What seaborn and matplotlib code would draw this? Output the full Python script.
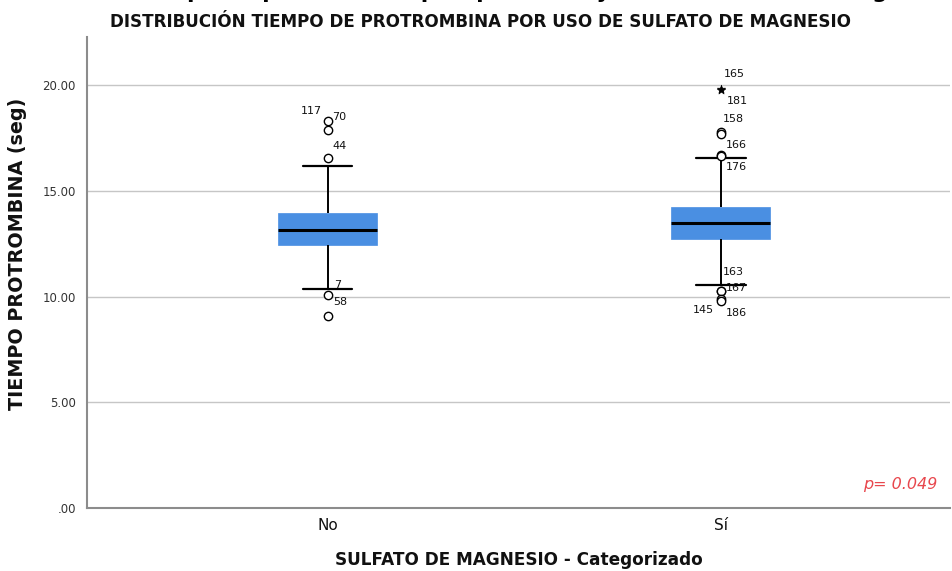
import numpy as np
import pandas as pd
import matplotlib
matplotlib.use("Agg")
import matplotlib.pyplot as plt
import seaborn as sns

# ---- data -------------------------------------------------------------
categorias = ["No", "Sí"]

# prothrombin time values inside the whiskers (seconds), per group
tp_no = [10.36, 11.60, 12.43, 12.65, 12.85, 13.02, 13.16, 13.40, 13.60, 13.80, 13.95, 16.18]
tp_si = [10.54, 11.40, 12.30, 12.70, 12.85, 12.98, 13.08, 13.18, 13.28, 13.38, 13.46,
         13.55, 13.65, 13.78, 13.92, 14.05, 14.15, 14.25, 16.57]

# atypical cases (value and case number)
atip_no_val = [18.28, 17.88, 16.57, 10.09, 9.10]
atip_no_id = ["117", "70", "44", "7", "58"]
atip_si_val = [19.81, 19.78, 17.76, 17.66, 16.68, 16.64, 10.28, 10.25, 9.88, 9.80]
atip_si_id = ["165", "181", "158", "", "166", "176", "163", "167", "145", "186"]

yticks = [0, 5, 10, 15, 20]
ytick_labels = [".00", "5.00", "10.00", "15.00", "20.00"]
p_valor = "p= 0.049"

# label offsets for the case numbers (pixels, dx right / dy up)
off_no = [(-16, 10), (12, 13), (12, 12), (10, 10), (13, 14)]
off_si = [(14, 15), (17, -11), (13, 13), (0, 0), (16, 10), (16, -11),
          (13, 19), (16, 3), (-17, -11), (16, -12)]

# ---- tables -------------------------------------------------------------
valores = {"No": tp_no + atip_no_val, "Sí": tp_si + atip_si_val}
df = pd.DataFrame(
    [(g, v) for g in categorias for v in valores[g]],
    columns=["grupo", "tp"],
)

atip = pd.DataFrame({
    "grupo": ["No"] * len(atip_no_val) + ["Sí"] * len(atip_si_val),
    "tp": atip_no_val + atip_si_val,
    "caso": atip_no_id + atip_si_id,
})
atip["pos"] = atip["grupo"].map({g: i for i, g in enumerate(categorias)})
# extreme cases: beyond 3 IQR from the box
q = df.groupby("grupo")["tp"].quantile([0.25, 0.75]).unstack()
iqr = q[0.75] - q[0.25]
hi = atip["grupo"].map(q[0.75] + 3 * iqr)
lo = atip["grupo"].map(q[0.25] - 3 * iqr)
atip["extremo"] = (atip["tp"] > hi) | (atip["tp"] < lo)

# ---- figure -------------------------------------------------------------
sns.set_theme(style="white")
plt.rcParams["font.family"] = ["DejaVu Sans"]

W, H = 953, 571
fig = plt.figure(figsize=(W / 100, H / 100), dpi=100)
ax = fig.add_axes([87 / W, 1 - 508 / H, (950 - 87) / W, (508 - 37) / H])

azul = "#4a8fe2"
sns.boxplot(
    data=df, x="grupo", y="tp", order=categorias, ax=ax,
    width=0.252, showfliers=False, whis=1.5,
    color=azul, linecolor="black", linewidth=1.4,
    boxprops=dict(facecolor=azul, edgecolor=azul, linewidth=0.5),
    medianprops=dict(color="black", linewidth=2.2),
    whiskerprops=dict(color="black", linewidth=1.4),
    capprops=dict(color="black", linewidth=1.6),
)

circ = atip[~atip["extremo"]]
ext = atip[atip["extremo"]]
sns.scatterplot(data=circ, x="pos", y="tp", ax=ax, marker="o", s=36,
                facecolor="white", edgecolor="black", linewidth=1.0, zorder=5)
sns.scatterplot(data=ext, x="pos", y="tp", ax=ax, marker="*", s=40,
                color="black", edgecolor="black", linewidth=0.4, zorder=5)

offs = off_no + off_si
for (_, r), (dx, dy) in zip(atip.iterrows(), offs):
    if r["caso"]:
        ax.annotate(r["caso"], (r["pos"], r["tp"]), xytext=(dx * 0.72, dy * 0.72),
                    textcoords="offset points", ha="center", va="center",
                    fontsize=8, color="#111111")

ax.set_xlim(-0.612, 1.583)
ax.set_ylim(0, 22.27)
ax.set_yticks(yticks)
ax.set_yticklabels(ytick_labels)
ax.yaxis.grid(True, color="#c6c6c6", linewidth=1.0)
ax.set_axisbelow(True)
ax.tick_params(axis="y", length=0, pad=8, labelsize=8.5, labelcolor="#333333")
ax.tick_params(axis="x", length=0, pad=7, labelsize=11, labelcolor="#111111")

for s in ["top", "right"]:
    ax.spines[s].set_visible(False)
for s in ["left", "bottom"]:
    ax.spines[s].set_color("#8c8c8c")
    ax.spines[s].set_linewidth(1.5)

ax.set_xlabel("SULFATO DE MAGNESIO - Categorizado", fontsize=12.2,
              fontweight="bold", labelpad=13.5, color="#111111")
ax.set_ylabel("TIEMPO PROTROMBINA (seg)", fontsize=13.8, fontweight="bold",
              color="#111111")
ax.yaxis.set_label_coords((27 - 87) / 863, (508 - 254) / 471)

ax.text(0.985, 0.05, p_valor, transform=ax.transAxes, ha="right", va="center",
        fontsize=11.5, style="italic", color="#e8474d")

fig.text(481 / W, 1 - 22 / H, "DISTRIBUCIÓN TIEMPO DE PROTROMBINA POR USO DE SULFATO DE MAGNESIO",
         ha="center", va="center", fontsize=12.1, fontweight="bold", color="#111111")
fig.text(128 / W, 1 + 1.5 / H,
         "Tiempo de protrombina preoperatorio y uso de sulfato de magnesio",
         ha="left", va="baseline", fontsize=15.5, fontweight="bold", color="black")

fig.savefig("out.png", dpi=100)
